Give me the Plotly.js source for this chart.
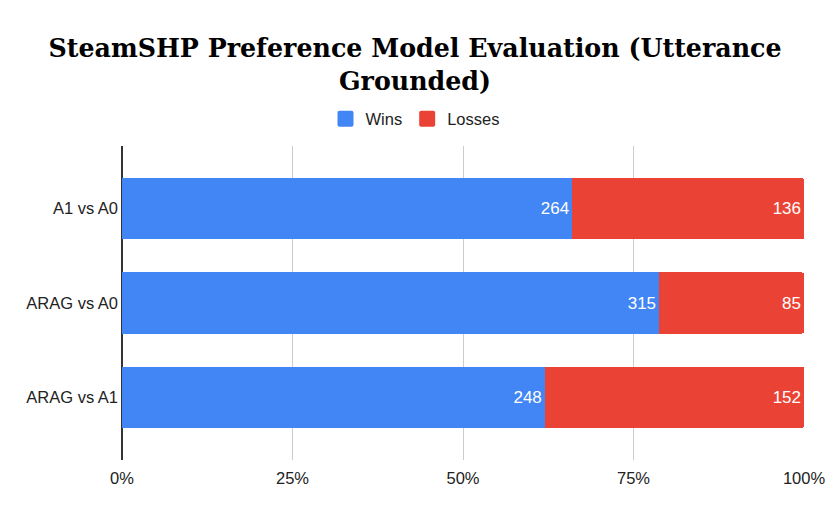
<!DOCTYPE html>
<html>
<head>
<meta charset="utf-8">
<script src="https://cdn.plot.ly/plotly-3.0.1.min.js"></script>
<style>
  html, body { margin: 0; padding: 0; background: #fff; }
  #chart { width: 830px; height: 514px; }
</style>
</head>
<body>
<div id="chart"></div>
<script>
const categories = ['A1 vs A0', 'ARAG vs A0', 'ARAG vs A1'];
const wins = [264, 315, 248];
const losses = [136, 85, 152];
const xTicks = [0, 25, 50, 75, 100];

const sans = 'Liberation Sans, Arial, sans-serif';
const labelFont = { family: sans, size: 17, color: '#ffffff' };

const winsTrace = {
  type: 'bar',
  orientation: 'h',
  name: 'Wins',
  y: categories,
  x: wins,
  text: wins.map(String),
  textposition: 'inside',
  insidetextanchor: 'end',
  textfont: labelFont,
  marker: { color: '#4285F4' },
  hoverinfo: 'y+text+name',
};

const lossesTrace = {
  type: 'bar',
  orientation: 'h',
  name: 'Losses',
  y: categories,
  x: losses,
  text: losses.map(String),
  textposition: 'inside',
  insidetextanchor: 'end',
  textfont: labelFont,
  marker: { color: '#EA4335' },
  hoverinfo: 'y+text+name',
};

const layout = {
  width: 830,
  height: 514,
  barmode: 'stack',
  barnorm: 'percent',
  bargap: 0.353,
  barcornerradius: 2,
  margin: { l: 122, r: 26, t: 146, b: 54 },
  paper_bgcolor: '#ffffff',
  plot_bgcolor: '#ffffff',
  title: {
    text: '<b>SteamSHP Preference Model Evaluation (Utterance<br>Grounded)</b>',
    font: { family: 'DejaVu Serif, serif', size: 25.3, color: '#000000' },
    x: 0.5,
    xanchor: 'center',
    y: 0.889,
    yanchor: 'middle',
  },
  legend: {
    orientation: 'h',
    traceorder: 'normal',
    xref: 'container',
    x: 0.5,
    xanchor: 'center',
    yref: 'container',
    y: 1 - 119 / 514,
    yanchor: 'middle',
    font: { family: sans, size: 16.5, color: '#222222' },
    itemwidth: 30,
  },
  xaxis: {
    range: [0, 100],
    tickvals: xTicks,
    ticktext: xTicks.map(v => v + '%'),
    showgrid: true,
    gridcolor: '#cccccc',
    gridwidth: 1,
    zeroline: true,
    zerolinecolor: '#333333',
    zerolinewidth: 1.5,
    showline: false,
    ticks: '',
    ticklen: 0,
    ticklabelstandoff: 6,
    tickfont: { family: sans, size: 16.5, color: '#222222' },
    fixedrange: true,
  },
  yaxis: {
    type: 'category',
    range: [2.663, -0.663],
    showgrid: false,
    zeroline: false,
    showline: false,
    ticks: '',
    ticklabelstandoff: 3,
    tickfont: { family: sans, size: 16.5, color: '#222222' },
    fixedrange: true,
  },
  showlegend: true,
};

Plotly.newPlot('chart', [winsTrace, lossesTrace], layout, { displayModeBar: false, staticPlot: true })
  .then(gd => {
    // bigger, square legend swatches like the original
    gd.querySelectorAll('.legend .legendpoints path').forEach(p => {
      p.setAttribute('d', 'M-6,-8H6Q8,-8 8,-6V6Q8,8 6,8H-6Q-8,8 -8,6V-6Q-8,-8 -6,-8Z');
    });
  });
</script>
</body>
</html>
